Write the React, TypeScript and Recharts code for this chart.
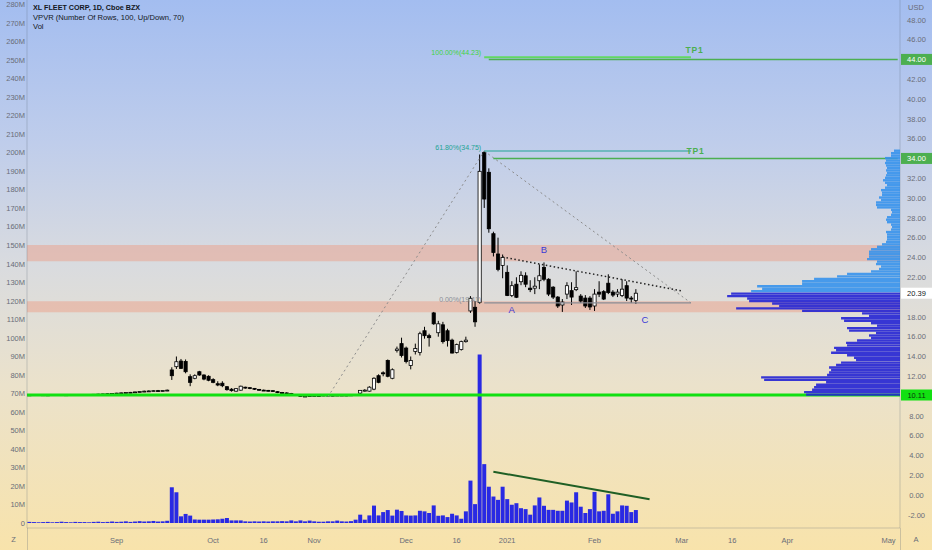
import React from "react";
import {
  ComposedChart,
  BarChart,
  Bar,
  XAxis,
  YAxis,
  ReferenceLine,
  ReferenceArea,
  ReferenceDot,
  Cell,
} from "recharts";

const W = 932;
const H = 550;
const FONT = '"Liberation Sans", Arial, sans-serif';
const AXIS_TEXT = "#6a6d78";
const AXIS_LINE = "rgba(90,100,120,0.28)";

// time scale: trading days from Aug 5 2020, bars end Feb 12 2021, the rest is empty future space
const FIRST_DAY = "2020-08-05";
const SLOT_COUNT = 190;
const HOLIDAYS = ["2020-09-07", "2020-11-26", "2020-12-25", "2021-01-01", "2021-01-18", "2021-02-15"];

function tradingDays(start: string, count: number): string[] {
  const out: string[] = [];
  const d = new Date(start + "T00:00:00Z");
  while (out.length < count) {
    const iso = d.toISOString().slice(0, 10);
    const wd = d.getUTCDay();
    if (wd !== 0 && wd !== 6 && !HOLIDAYS.includes(iso)) out.push(iso);
    d.setUTCDate(d.getUTCDate() + 1);
  }
  return out;
}
const dates = tradingDays(FIRST_DAY, SLOT_COUNT);

const timeLabels: Record<string, string> = {
  "2020-09-01": "Sep",
  "2020-10-01": "Oct",
  "2020-10-16": "16",
  "2020-11-02": "Nov",
  "2020-12-01": "Dec",
  "2020-12-16": "16",
  "2021-01-04": "2021",
  "2021-02-01": "Feb",
  "2021-03-01": "Mar",
  "2021-03-16": "16",
  "2021-04-01": "Apr",
  "2021-05-03": "May",
};
const timeTicks = Object.keys(timeLabels);

// daily OHLC, USD
const opens = [
  10.10, 10.12, 10.14, 10.13, 10.11, 10.12, 10.15, 10.14, 10.12, 10.13, 10.16, 10.15, 10.14, 10.17, 10.16, 10.18,
  10.20, 10.22, 10.25, 10.27, 10.30, 10.33, 10.36, 10.38, 10.42, 10.46, 10.50, 10.52, 10.55, 10.53, 10.56,
  12.64, 12.97, 13.54, 13.50, 11.96, 11.80, 12.46, 12.13, 12.00, 11.66, 11.25, 11.30, 10.95, 10.70, 10.50, 10.60,
  10.90, 10.85, 10.78, 10.68, 10.60, 10.58, 10.55, 10.45, 10.36, 10.32, 10.26, 10.15, 10.05, 9.98, 10.00, 10.04,
  10.06, 10.05, 10.10, 10.02, 10.08, 10.10, 10.06, 10.10, 10.12, 10.30, 10.50, 10.50, 10.70, 12.06, 12.35, 13.60,
  11.80, 14.60, 15.30, 14.85, 13.10, 14.50, 14.40, 16.60, 16.10, 18.40, 16.40, 17.20, 16.60, 15.65, 14.40, 14.70,
  15.50, 18.60, 18.97, 19.47, 34.60, 32.60, 26.40, 24.35, 23.20, 22.50, 20.15, 21.30, 21.55, 22.15, 20.90, 20.90,
  21.65, 23.00, 21.80, 21.00, 20.00, 19.20, 20.30, 20.65, 20.75, 20.10, 19.90, 19.90, 19.10, 20.50, 20.55, 21.40,
  20.50, 20.30, 20.15, 21.15, 19.90, 19.65,
];
const highs = [
  10.16, 10.18, 10.18, 10.17, 10.16, 10.17, 10.20, 10.18, 10.16, 10.18, 10.20, 10.19, 10.18, 10.21, 10.20, 10.23,
  10.25, 10.27, 10.30, 10.33, 10.36, 10.40, 10.42, 10.45, 10.50, 10.55, 10.58, 10.60, 10.62, 10.60, 10.66,
  12.91, 14.00, 13.75, 13.70, 12.20, 12.20, 12.55, 12.20, 12.10, 11.80, 11.50, 11.50, 11.00, 10.80, 10.80, 11.05,
  10.95, 10.90, 10.82, 10.72, 10.66, 10.62, 10.58, 10.50, 10.42, 10.38, 10.32, 10.20, 10.10, 10.05, 10.08, 10.10,
  10.12, 10.14, 10.15, 10.12, 10.15, 10.16, 10.14, 10.18, 10.20, 10.60, 10.70, 11.00, 11.90, 12.20, 12.50, 13.70,
  12.80, 15.00, 15.90, 15.00, 14.00, 15.30, 16.50, 17.00, 16.30, 18.50, 17.60, 17.50, 16.80, 15.80, 15.30, 15.60,
  16.00, 20.10, 19.60, 34.40, 34.75, 33.00, 26.60, 26.00, 24.30, 23.20, 21.60, 22.00, 22.60, 22.50, 21.70, 22.00,
  23.30, 23.50, 21.90, 21.10, 20.10, 19.80, 21.50, 21.50, 22.60, 20.30, 20.20, 20.10, 20.80, 21.60, 20.70, 22.30,
  20.70, 20.80, 21.80, 21.60, 20.10, 20.80,
];
const lows = [
  10.06, 10.08, 10.10, 10.08, 10.07, 10.09, 10.10, 10.09, 10.08, 10.10, 10.11, 10.10, 10.10, 10.12, 10.11, 10.14,
  10.15, 10.17, 10.20, 10.22, 10.25, 10.28, 10.30, 10.33, 10.38, 10.40, 10.44, 10.46, 10.48, 10.47, 10.50,
  11.63, 12.74, 12.74, 12.30, 11.00, 11.70, 12.05, 11.60, 11.50, 11.30, 11.00, 10.90, 10.55, 10.45, 10.45, 10.55,
  10.75, 10.70, 10.62, 10.55, 10.52, 10.48, 10.44, 10.30, 10.25, 10.20, 10.15, 10.02, 9.93, 9.93, 9.95, 9.98,
  10.00, 10.00, 9.93, 9.98, 10.02, 10.03, 10.00, 10.05, 10.06, 10.20, 10.45, 10.45, 10.60, 11.30, 12.00, 11.90,
  11.70, 14.40, 13.90, 13.30, 12.70, 14.20, 14.10, 15.80, 15.00, 17.20, 16.00, 15.30, 15.00, 14.30, 14.30, 14.60,
  15.40, 18.40, 17.00, 19.30, 29.00, 26.50, 24.10, 22.60, 21.90, 20.10, 20.00, 19.90, 21.20, 21.00, 20.50, 20.30,
  20.80, 21.60, 20.10, 19.80, 18.90, 18.50, 19.80, 19.20, 20.60, 19.40, 18.90, 18.70, 18.60, 20.00, 19.70, 20.30,
  20.00, 20.00, 20.00, 19.60, 19.40, 19.30,
];
const closes = [
  10.12, 10.14, 10.13, 10.11, 10.12, 10.15, 10.14, 10.12, 10.13, 10.16, 10.15, 10.14, 10.17, 10.16, 10.18, 10.20,
  10.22, 10.25, 10.27, 10.30, 10.33, 10.36, 10.38, 10.42, 10.46, 10.50, 10.52, 10.55, 10.53, 10.56, 10.60,
  12.06, 13.47, 12.80, 12.46, 11.39, 12.06, 12.13, 11.72, 11.60, 11.39, 11.12, 11.05, 10.65, 10.55, 10.75, 11.00,
  10.85, 10.80, 10.70, 10.60, 10.58, 10.55, 10.50, 10.35, 10.30, 10.25, 10.20, 10.10, 9.97, 10.00, 10.04, 10.06,
  10.05, 10.10, 10.02, 10.08, 10.10, 10.06, 10.10, 10.12, 10.15, 10.58, 10.60, 10.90, 11.80, 11.39, 12.25, 12.00,
  12.66, 14.75, 14.10, 13.50, 13.60, 14.80, 16.30, 16.10, 15.90, 17.30, 17.30, 15.50, 15.60, 14.35, 15.20, 15.50,
  15.65, 19.88, 17.50, 32.70, 29.90, 26.90, 24.50, 22.80, 24.00, 20.15, 21.15, 19.98, 22.20, 21.30, 20.75, 21.10,
  22.15, 21.80, 20.30, 20.00, 19.10, 19.50, 21.15, 20.00, 20.95, 19.60, 19.10, 19.00, 20.30, 20.30, 19.80, 20.45,
  20.20, 20.50, 20.80, 19.90, 19.80, 20.39,
];
// daily volume, millions of shares
const volumes = [
  0.6, 0.5, 0.4, 0.5, 0.6, 0.4, 0.5, 0.7, 0.5, 0.4, 0.6, 0.5, 0.5, 0.4, 0.6, 0.7,
  0.5, 0.6, 0.8, 0.6, 0.7, 0.9, 0.6, 0.8, 1.0, 0.8, 0.9, 1.1, 0.8, 0.9, 1.2,
  19.3, 16.6, 3.6, 4.9, 4.0, 1.9, 1.8, 1.8, 1.8, 1.9, 2.0, 2.3, 2.7, 1.4, 1.4, 1.4,
  0.9, 0.8, 0.9, 0.8, 0.9, 0.8, 0.9, 0.9, 1.0, 0.9, 1.4, 0.9, 1.4, 0.9, 1.3, 0.9,
  0.7, 0.7, 0.9, 0.9, 1.3, 0.9, 0.8, 1.0, 1.8, 4.5, 1.8, 4.1, 9.4, 4.1, 5.9, 7.0,
  4.0, 7.2, 6.5, 4.1, 4.0, 4.1, 6.6, 6.3, 5.4, 9.5, 3.9, 4.1, 3.2, 5.0, 4.1, 2.3,
  6.3, 22.9, 10.2, 91.0, 31.8, 19.6, 14.3, 12.5, 19.6, 12.9, 9.8, 10.7, 8.0, 7.5, 4.5, 9.5,
  13.8, 9.3, 7.1, 7.1, 6.6, 6.6, 12.1, 11.1, 16.6, 8.8, 5.4, 7.5, 16.8, 6.3, 6.6, 15.5,
  5.0, 6.3, 9.5, 9.3, 5.9, 7.0,
];

const volTicks = [0, 10, 20, 30, 40, 50, 60, 70, 80, 90, 100, 110, 120, 130, 140, 150, 160, 170, 180, 190, 200, 210, 220, 230, 240, 250, 260, 270, 280];
const priceTicks = [-2, 0, 2, 4, 6, 8, 10.11, 12, 14, 16, 18, 20.39, 22, 24, 26, 28, 30, 32, 34, 36, 38, 40, 42, 44, 46, 48];
const PRICE_DOMAIN: [number, number] = [-3.32, 50.0];
const VOL_DOMAIN: [number, number] = [-2.7, 282.5];

// VPVR, 100 rows from bottom to top (relative volume per row)
const PROFILE_LOW = 10.02;
const PROFILE_HIGH = 34.9;
const profileVolumes = [
  94, 96, 88, 86, 84, 74, 136, 139, 73, 71,
  69, 71, 64, 59, 44, 46, 53, 69, 64, 66,
  53, 54, 43, 29, 31, 24, 51, 53, 23, 29,
  56, 59, 31, 38, 98, 164, 121, 128, 151, 153,
  173, 169, 149, 138, 143, 98, 98, 86, 63, 53,
  29, 21, 19, 24, 23, 33, 31, 31, 31, 29,
  23, 18, 14, 13, 13, 13, 14, 9, 8, 9,
  13, 14, 13, 9, 8, 9, 23, 24, 24, 19,
  21, 18, 18, 19, 15, 13, 15, 17, 15, 14,
  13, 14, 13, 14, 15, 14, 15, 9, 9, 6,
];
const profileRows = profileVolumes.map((v, k) => ({
  price: PROFILE_LOW + ((k + 0.5) * (PROFILE_HIGH - PROFILE_LOW)) / profileVolumes.length,
  vol: v,
}));
const PROFILE_SPAN = Math.max(...profileVolumes) / 0.198;

const rows = dates.map((date, i) => {
  const has = i < opens.length;
  return {
    date,
    open: has ? opens[i] : undefined,
    high: has ? highs[i] : undefined,
    low: has ? lows[i] : undefined,
    close: has ? closes[i] : undefined,
    range: has ? [lows[i], highs[i]] : undefined,
    volume: has ? volumes[i] : undefined,
  };
});

const Candle = (props: any) => {
  const { x, y, width, height, payload } = props;
  if (!payload || payload.open == null || !(height > 0)) return null;
  const { open, close, high, low } = payload;
  const k = height / (high - low);
  const yOf = (v: number) => y + (high - v) * k;
  const cx = x + width / 2;
  const up = close >= open;
  const top = yOf(Math.max(open, close));
  const bot = yOf(Math.min(open, close));
  const bw = 3.2;
  return (
    <g>
      <line x1={cx} x2={cx} y1={y} y2={y + height} stroke="#000" strokeWidth={1} />
      <rect
        x={cx - bw / 2}
        y={top}
        width={bw}
        height={Math.max(bot - top, 0.9)}
        fill={up ? "#ffffff" : "#000000"}
        stroke="#000"
        strokeWidth={0.8}
      />
    </g>
  );
};

const TimeTick = (props: any) => {
  const { x, y, payload } = props;
  return (
    <text x={x} y={y + 15} textAnchor="middle" fontSize={7.5} fill={AXIS_TEXT} fontFamily={FONT}>
      {timeLabels[payload.value]}
    </text>
  );
};

const VolTick = (props: any) => {
  const { x, y, payload } = props;
  return (
    <text x={x} y={y + 2.7} textAnchor="end" fontSize={7.5} fill={AXIS_TEXT} fontFamily={FONT}>
      {payload.value === 0 ? "0" : `${payload.value}M`}
    </text>
  );
};

const priceBoxes: Record<string, { bg: string; fg: string }> = {
  "10.11": { bg: "#12e012", fg: "#0b330b" },
  "20.39": { bg: "#ffffff", fg: "#131722" },
  "34": { bg: "#4caf50", fg: "#ffffff" },
  "44": { bg: "#4caf50", fg: "#ffffff" },
};

const PriceTick = (props: any) => {
  const { x, y, payload } = props;
  const v = payload.value as number;
  const box = priceBoxes[String(v)];
  const label = v.toFixed(2);
  if (box) {
    return (
      <g>
        <rect x={x + 1} y={y - 5.5} width={31} height={11} fill={box.bg} />
        <text x={x + 16.5} y={y + 2.7} textAnchor="middle" fontSize={7.5} fill={box.fg} fontFamily={FONT}>
          {label}
        </text>
      </g>
    );
  }
  return (
    <text x={x + 16.5} y={y + 2.7} textAnchor="middle" fontSize={7.5} fill={AXIS_TEXT} fontFamily={FONT}>
      {label}
    </text>
  );
};

// text label placed relative to a reference element's start or end
const note =
  (text: string, color: string, dx: number, dy: number, anchor: string, fromEnd = false, size = 7, weight = 400) =>
  (p: any) => {
    const vb = p.viewBox || {};
    const bx = fromEnd ? vb.x + (vb.width || 0) : vb.x;
    return (
      <text
        x={bx + dx}
        y={vb.y + dy}
        fill={color}
        fontSize={size}
        fontWeight={weight}
        textAnchor={anchor as any}
        fontFamily={FONT}
        letterSpacing={size > 8 ? 0.8 : 0}
      >
        {text}
      </text>
    );
  };

const letter = (text: string) => (p: any) => {
  const vb = p.viewBox || {};
  return (
    <text x={vb.x + (vb.width || 0) / 2} y={vb.y + 3.5} fill="#3a3ad6" fontSize={9.5} textAnchor="middle" fontFamily={FONT}>
      {text}
    </text>
  );
};

const FIB_A = { i: 65, p: 9.93 };
const FIB_B = { i: 99, p: 34.75 };
const FIB_C = { i: 144, p: 19.41 };
const LAST = SLOT_COUNT - 1;

export default function App() {
  return (
    <div
      style={{
        position: "absolute",
        left: 0,
        top: 0,
        width: W,
        height: H,
        overflow: "hidden",
        background: "linear-gradient(180deg, #a3bdf0 0%, #bfcdeb 26%, #d9dbdf 48%, #ebe2cb 70%, #f8e3ab 100%)",
        fontFamily: FONT,
      }}
    >
      <div style={{ position: "absolute", left: 0, top: 0 }}>
        <ComposedChart width={W} height={H} data={rows} margin={{ top: 0, right: 0, bottom: 0, left: 0 }} barCategoryGap="8%">
          <XAxis
            xAxisId="main"
            dataKey="date"
            ticks={timeTicks}
            interval={0}
            tick={<TimeTick />}
            tickLine={false}
            tickSize={0}
            tickMargin={0}
            height={22}
            axisLine={{ stroke: AXIS_LINE }}
          />
          <XAxis xAxisId="vol" dataKey="date" hide />
          <YAxis
            yAxisId="vol"
            orientation="left"
            width={27}
            domain={VOL_DOMAIN}
            allowDataOverflow
            ticks={volTicks}
            interval={0}
            tick={<VolTick />}
            tickLine={false}
            tickSize={0}
            tickMargin={2}
            axisLine={{ stroke: AXIS_LINE }}
          />
          <YAxis
            yAxisId="price"
            orientation="right"
            width={32}
            domain={PRICE_DOMAIN}
            allowDataOverflow
            ticks={priceTicks}
            interval={0}
            tick={<PriceTick />}
            tickLine={false}
            tickSize={0}
            tickMargin={0}
            axisLine={{ stroke: AXIS_LINE }}
          />

          <ReferenceArea xAxisId="main" yAxisId="price" y1={23.62} y2={25.26} fill="#ee9a80" fillOpacity={0.45} stroke="none" />
          <ReferenceArea xAxisId="main" yAxisId="price" y1={18.46} y2={19.57} fill="#ee9a80" fillOpacity={0.45} stroke="none" />

          <Bar xAxisId="vol" yAxisId="vol" dataKey="volume" fill="#2929e3" isAnimationActive={false} />
          <Bar xAxisId="main" yAxisId="price" dataKey="range" shape={<Candle />} isAnimationActive={false} />

          <ReferenceLine xAxisId="main" yAxisId="price" y={10.11} stroke="#12e012" strokeWidth={3} />

          {/* trend based fib extension */}
          <ReferenceLine
            xAxisId="main"
            yAxisId="price"
            segment={[{ x: dates[FIB_A.i], y: FIB_A.p }, { x: dates[FIB_B.i], y: FIB_B.p }]}
            stroke="#8c8c8c"
            strokeDasharray="2 3"
          />
          <ReferenceLine
            xAxisId="main"
            yAxisId="price"
            segment={[{ x: dates[FIB_B.i], y: FIB_B.p }, { x: dates[FIB_C.i], y: FIB_C.p }]}
            stroke="#8c8c8c"
            strokeDasharray="2 3"
          />
          <ReferenceLine
            xAxisId="main"
            yAxisId="price"
            segment={[{ x: dates[FIB_B.i], y: 44.23 }, { x: dates[FIB_C.i], y: 44.23 }]}
            stroke="#62d862"
            strokeWidth={2}
            label={note("100.00%(44.23)", "#3fd33f", -3, -2.5, "end")}
          />
          <ReferenceLine
            xAxisId="main"
            yAxisId="price"
            segment={[{ x: dates[FIB_B.i], y: 34.75 }, { x: dates[FIB_C.i], y: 34.75 }]}
            stroke="#22a394"
            strokeWidth={1.2}
            label={note("61.80%(34.75)", "#22a394", -3, -1, "end")}
          />
          <ReferenceLine
            xAxisId="main"
            yAxisId="price"
            segment={[{ x: dates[FIB_B.i], y: 19.41 }, { x: dates[FIB_C.i], y: 19.41 }]}
            stroke="#8a8d96"
            strokeWidth={1.2}
            label={note("0.00%(19.41)", "#8a8d96", -3, -1, "end")}
          />

          {/* targets */}
          <ReferenceLine
            xAxisId="main"
            yAxisId="price"
            segment={[{ x: dates[100], y: 44 }, { x: dates[LAST], y: 44 }]}
            stroke="#4caf50"
            strokeWidth={1.5}
          />
          <ReferenceLine
            xAxisId="main"
            yAxisId="price"
            segment={[{ x: dates[101], y: 34 }, { x: dates[LAST], y: 34 }]}
            stroke="#4caf50"
            strokeWidth={1.5}
          />
          <ReferenceDot xAxisId="main" yAxisId="price" x={dates[145]} y={44.8} r={1} fill="none" stroke="none" label={note("TP1", "#4caf50", 0, 3, "middle", false, 8.5, 700)} />
          <ReferenceDot xAxisId="main" yAxisId="price" x={dates[145]} y={34.75} r={1} fill="none" stroke="none" label={note("TP1", "#4caf50", 1, 4, "middle", false, 8.5, 700)} />

          {/* descending triangle */}
          <ReferenceLine
            xAxisId="main"
            yAxisId="price"
            segment={[{ x: dates[103], y: 24.05 }, { x: dates[142], y: 20.62 }]}
            stroke="#222"
            strokeWidth={1.5}
            strokeDasharray="1.5 2.5"
          />
          <ReferenceDot xAxisId="main" yAxisId="price" x={dates[105]} y={18.6} r={1} fill="none" stroke="none" label={letter("A")} />
          <ReferenceDot xAxisId="main" yAxisId="price" x={dates[112]} y={24.75} r={1} fill="none" stroke="none" label={letter("B")} />
          <ReferenceDot xAxisId="main" yAxisId="price" x={dates[134]} y={17.65} r={1} fill="none" stroke="none" label={letter("C")} />

          {/* falling volume */}
          <ReferenceLine
            xAxisId="vol"
            yAxisId="vol"
            segment={[{ x: dates[101], y: 27.7 }, { x: dates[135], y: 12.8 }]}
            stroke="#1f5f25"
            strokeWidth={2}
          />
        </ComposedChart>
      </div>

      <div style={{ position: "absolute", left: 0, top: 0, pointerEvents: "none" }}>
        <BarChart layout="vertical" width={W} height={H} data={profileRows} margin={{ top: 0, right: 32, bottom: 22, left: 27 }}>
          <XAxis type="number" hide reversed domain={[0, PROFILE_SPAN]} allowDataOverflow />
          <YAxis type="number" dataKey="price" hide reversed domain={PRICE_DOMAIN} allowDataOverflow />
          <Bar dataKey="vol" barSize={2.4} isAnimationActive={false}>
            {profileRows.map((r, k) => (
              <Cell key={k} fill={r.price < 20.55 ? "#2424d4" : "#3692ec"} fillOpacity={0.9} />
            ))}
          </Bar>
        </BarChart>
      </div>

      <div style={{ position: "absolute", left: 33, top: 3, fontSize: 7.6, lineHeight: "9.6px", color: "#131722" }}>
        <div style={{ fontWeight: 700, fontSize: 7.2 }}>XL FLEET CORP, 1D, Cboe BZX</div>
        <div>VPVR (Number Of Rows, 100, Up/Down, 70)</div>
        <div>Vol</div>
      </div>
      <div style={{ position: "absolute", left: 900, width: 32, top: 3, fontSize: 7.5, textAlign: "center", color: AXIS_TEXT }}>USD</div>
      <div style={{ position: "absolute", left: 0, width: 27, top: 535, fontSize: 7.5, textAlign: "center", color: AXIS_TEXT }}>Z</div>
      <div style={{ position: "absolute", left: 900, width: 32, top: 535, fontSize: 7.5, textAlign: "center", color: AXIS_TEXT }}>A</div>
      <div style={{ position: "absolute", left: 27, top: 528, width: 1, height: 22, background: AXIS_LINE }} />
      <div style={{ position: "absolute", left: 900, top: 528, width: 1, height: 22, background: AXIS_LINE }} />
    </div>
  );
}
